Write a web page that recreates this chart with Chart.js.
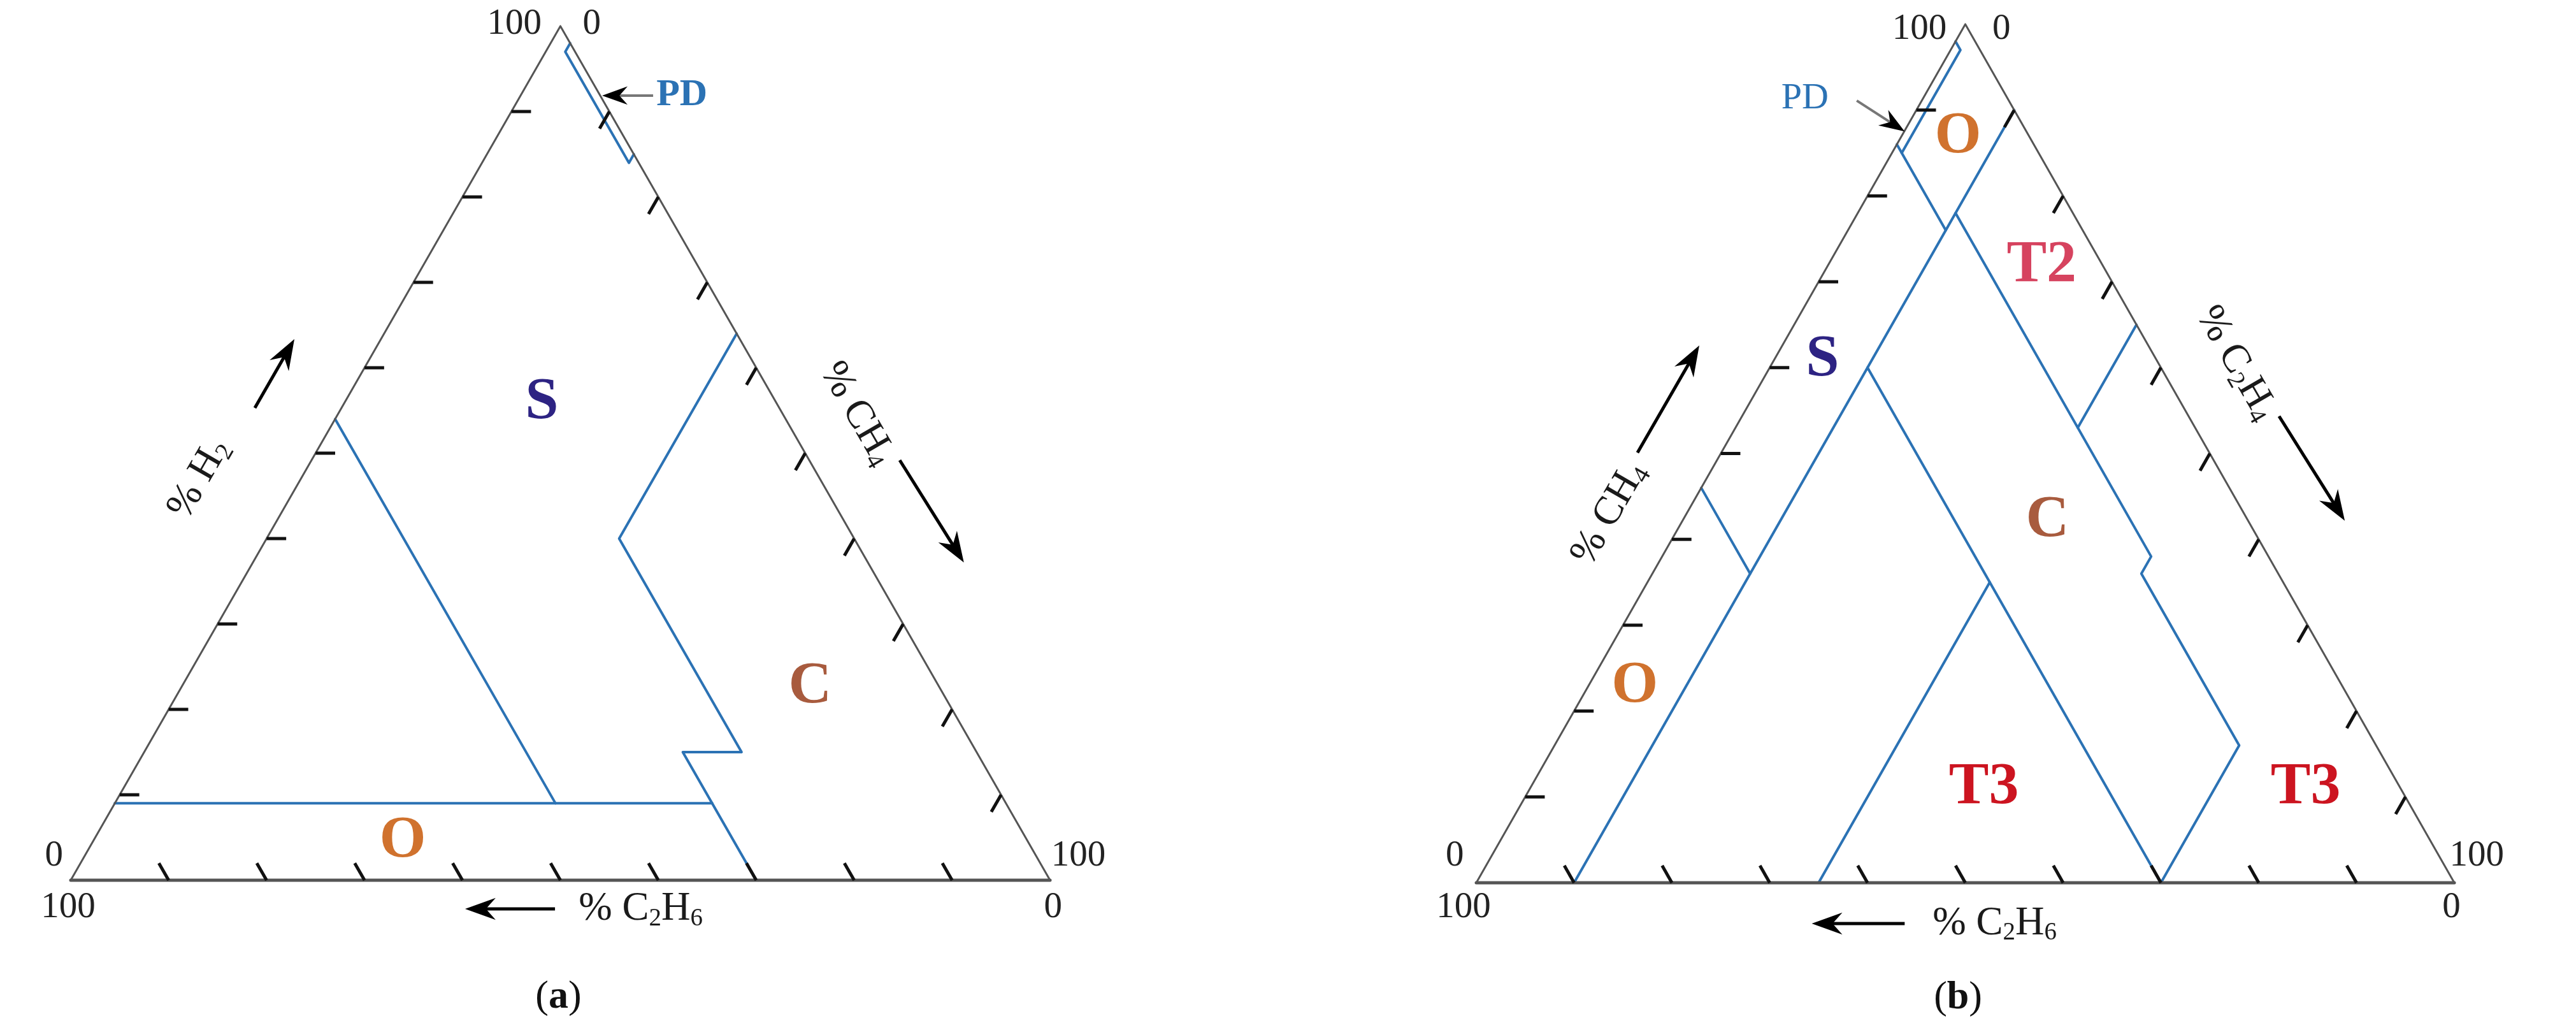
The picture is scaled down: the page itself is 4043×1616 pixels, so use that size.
<!DOCTYPE html>
<html>
<head>
<meta charset="utf-8">
<script src="https://cdn.jsdelivr.net/npm/chart.js@4.4.0/dist/chart.umd.min.js"></script>
<style>
html, body { margin: 0; padding: 0; background: #fff; }
body { width: 4043px; height: 1616px; position: relative; overflow: hidden; }
.box { position: absolute; top: 0; height: 1616px; }
#wrapA { left: 0; width: 2020px; }
#wrapB { left: 2020px; width: 2023px; }
</style>
</head>
<body>
<div class="box" id="wrapA"><canvas id="chartA"></canvas></div>
<div class="box" id="wrapB"><canvas id="chartB"></canvas></div>
<script>
// ticks every 10 % on each side
const tickValues = [10, 20, 30, 40, 50, 60, 70, 80, 90];
const cornerLabels = ['0', '100'];

// (a) points are [H2, CH4, C2H6] in %
const a_PD = [[98, 2, 0], [97, 2, 1], [84, 15, 1], [85, 15, 0]];
const a_ND = [[54, 0, 46], [9, 45, 46]];
const a_O = [[9, 0, 91], [9, 61, 30]];
const a_C = [[64, 36, 0], [40, 36, 24], [15, 61, 24], [15, 55, 30], [0, 70, 30]];
const a_zones = ['S', 'C', 'O'];

// (b) points are [CH4, C2H4, C2H6] in %
const b_PD = [[98, 0, 2], [97, 1, 2], [85, 1, 14]];
const b_Otop = [[86, 0, 14], [76, 10, 14]];
const b_C2H4_10 = [[90, 10, 0], [0, 10, 90]];
const b_Obottom = [[46, 0, 54], [36, 10, 54]];
const b_C2H6_12 = [[78, 10, 12], [38, 50, 12], [36, 50, 14], [16, 70, 14], [0, 70, 30]];
const b_C2H6_30 = [[60, 10, 30], [0, 70, 30]];
const b_C2H4_35top = [[65, 35, 0], [53, 35, 12]];
const b_C2H4_35bot = [[35, 35, 30], [0, 35, 65]];
const b_zones = ['O', 'T2', 'S', 'C', 'O', 'T3', 'T3'];

const BLUE = '#2b72b4';
const EDGE = '#555555';
const FONT = '"Liberation Serif", "DejaVu Serif", serif';
const col = { S: '#2d2383', C: '#a85b3e', O: '#d0722e', T2: '#d6435f', T3: '#cc1420', PD: '#2b72b4' };

// [top, right, left] -> x,y
function tern(p) { return { x: p[1] + p[0] / 2, y: p[0] }; }

function lineSet(pts, color, width) {
    return {
        data: pts.map(tern), showLine: true, borderColor: color, borderWidth: width,
        pointRadius: 0, fill: false, tension: 0,
        borderJoinStyle: 'round', borderCapStyle: 'round'
    };
}

function drawRich(ctx, segs, x, y, rot, size, color, align) {
    ctx.save();
    ctx.translate(x, y);
    ctx.rotate(rot * Math.PI / 180);
    ctx.fillStyle = color;
    ctx.textBaseline = 'middle';
    ctx.textAlign = 'left';
    const fnt = s => (s[2] ? 'bold ' : '') + Math.round(s[1] ? size * 0.62 : size) + 'px ' + FONT;
    let w = 0;
    segs.forEach(s => { ctx.font = fnt(s); w += ctx.measureText(s[0]).width; });
    let cx = align === 'left' ? 0 : -w / 2;
    segs.forEach(s => {
        ctx.font = fnt(s);
        ctx.fillText(s[0], cx, s[1] ? size * 0.24 : 0);
        cx += ctx.measureText(s[0]).width;
    });
    ctx.restore();
}

function arrow(ctx, x1, y1, x2, y2, lineColor, lw, head) {
    const ang = Math.atan2(y2 - y1, x2 - x1);
    const L = Math.hypot(x2 - x1, y2 - y1);
    ctx.save();
    ctx.translate(x2, y2);
    ctx.rotate(ang);
    ctx.strokeStyle = lineColor;
    ctx.lineWidth = lw;
    ctx.beginPath(); ctx.moveTo(-L, 0); ctx.lineTo(-head * 0.6, 0); ctx.stroke();
    ctx.fillStyle = '#000';
    ctx.beginPath();
    ctx.moveTo(0, 0); ctx.lineTo(-head, -head * 0.36); ctx.lineTo(-head * 0.68, 0); ctx.lineTo(-head, head * 0.36);
    ctx.closePath(); ctx.fill();
    ctx.restore();
}

function decor(cfg) {
    return {
        id: 'decor',
        afterDatasetsDraw(chart) {
            const ctx = chart.ctx, sx = chart.scales.x, sy = chart.scales.y;
            const P = (u, h) => [sx.getPixelForValue(u), sy.getPixelForValue(h)];
            const T = p => { const q = tern(p); return P(q.x, q.y); };
            // ticks
            ctx.save();
            ctx.strokeStyle = '#111';
            ctx.lineWidth = 5;
            tickValues.forEach(v => {
                [[[v, 0, 100 - v], [v, 2, 98 - v]],
                 [[0, 100 - v, v], [2, 98 - v, v]],
                 [[100 - v, v, 0], [98 - v, v, 2]]].forEach(t => {
                    const a = T(t[0]), b = T(t[1]);
                    ctx.beginPath(); ctx.moveTo(a[0], a[1]); ctx.lineTo(b[0], b[1]); ctx.stroke();
                });
            });
            ctx.restore();
            // corner numbers
            cfg.corners.forEach(c => { const p = P(c[1], c[2]); drawRich(ctx, [[cornerLabels[c[0]], 0, 0]], p[0], p[1], 0, 57, '#222'); });
            // axis titles and arrows
            cfg.titles.forEach(t => { const p = P(t.u, t.h); drawRich(ctx, t.segs, p[0], p[1], t.rot, 63, '#1a1a1a'); });
            cfg.arrows.forEach(a => {
                const p = P(a[0], a[1]), q = P(a[2], a[3]);
                arrow(ctx, p[0], p[1], q[0], q[1], a[4], a[5], a[6]);
            });
            // zone names
            cfg.zones.forEach(z => { const p = P(z.u, z.h); drawRich(ctx, [[z.t, 0, 1]], p[0], p[1], 0, z.size || 94, col[z.t]); });
            // PD label
            const pd = P(cfg.pd.u, cfg.pd.h);
            drawRich(ctx, [['PD', 0, cfg.pd.bold]], pd[0], pd[1], 0, cfg.pd.size, col.PD, cfg.pd.align);
            // caption
            const cp = P(cfg.cap.u, cfg.cap.h);
            drawRich(ctx, [['(', 0, 0], [cfg.cap.t, 0, 1], [')', 0, 0]], cp[0], cp[1], 0, 62, '#111');
        }
    };
}

function makeChart(id, lines, range, cfg) {
    const outline = [[100, 0, 0], [0, 100, 0], [0, 0, 100], [100, 0, 0]];
    const sets = [lineSet(outline, EDGE, 3), lineSet([[0, 100, 0], [0, 0, 100]], EDGE, 5)];
    lines.forEach(l => sets.push(lineSet(l, BLUE, 4)));
    new Chart(document.getElementById(id), {
        type: 'scatter',
        data: { datasets: sets },
        options: {
            responsive: true,
            maintainAspectRatio: false,
            animation: false,
            events: [],
            layout: { padding: 0 },
            plugins: { legend: { display: false }, tooltip: { enabled: false } },
            scales: {
                x: { type: 'linear', display: false, min: range[0], max: range[1] },
                y: { type: 'linear', display: false, min: range[2], max: range[3] }
            }
        },
        plugins: [decor(cfg)]
    });
}

// (a)
makeChart('chartA', [a_PD, a_ND, a_O, a_C], [-7.222, 124.2, -17.54, 103.06], {
    corners: [[1, 45.3, 100.2], [0, 53.2, 100.2], [0, -1.7, 2.84], [1, -0.26, -3.2], [1, 102.9, 2.84], [0, 100.3, -3.2]],
    titles: [
        { segs: [['% H', 0, 0], ['2', 1, 0]], u: 13.1, h: 47.0, rot: -60 },
        { segs: [['% CH', 0, 0], ['4', 1, 0]], u: 80.3, h: 54.6, rot: 60 },
        { segs: [['% C', 0, 0], ['2', 1, 0], ['H', 0, 0], ['6', 1, 0]], u: 58.2, h: -3.4, rot: 0 }
    ],
    arrows: [
        [18.8, 55.3, 22.84, 63.36, '#000', 5, 48],
        [84.65, 49.18, 91.2, 37.2, '#000', 5, 48],
        [49.45, -3.36, 40.27, -3.36, '#000', 5, 48],
        [59.47, 91.87, 54.26, 91.87, '#777', 4, 40]
    ],
    zones: [
        { t: a_zones[0], u: 48.1, h: 55.9 },
        { t: a_zones[1], u: 75.5, h: 22.6 },
        { t: a_zones[2], u: 33.9, h: 4.55 }
    ],
    pd: { u: 59.8, h: 91.87, size: 60, bold: 1, align: 'left' },
    cap: { t: 'a', u: 49.8, h: -13.7 }
});

// (b)
makeChart('chartB', [b_PD, b_Otop, b_C2H4_10, b_Obottom, b_C2H6_12, b_C2H6_30, b_C2H4_35top, b_C2H4_35bot],
    [-19.35, 112.44, -17.15, 102.82], {
    corners: [[1, 45.3, 99.4], [0, 53.7, 99.4], [0, -2.2, 3.1], [1, -1.3, -2.9], [1, 102.3, 3.1], [0, 99.7, -2.9]],
    titles: [
        { segs: [['% CH', 0, 0], ['4', 1, 0]], u: 13.6, h: 43.0, rot: -60 },
        { segs: [['% C', 0, 0], ['2', 1, 0], ['H', 0, 0], ['4', 1, 0]], u: 77.7, h: 60.5, rot: 60 },
        { segs: [['% C', 0, 0], ['2', 1, 0], ['H', 0, 0], ['6', 1, 0]], u: 53.0, h: -4.75, rot: 0 }
    ],
    arrows: [
        [16.48, 50.1, 22.8, 62.58, '#000', 5, 48],
        [82.08, 54.34, 88.8, 42.17, '#000', 5, 48],
        [43.8, -4.75, 34.3, -4.75, '#000', 5, 48],
        [38.9, 91.1, 43.8, 87.5, '#777', 4, 40]
    ],
    zones: [
        { t: b_zones[0], u: 49.25, h: 86.9 },
        { t: b_zones[1], u: 57.8, h: 71.9 },
        { t: b_zones[2], u: 35.4, h: 60.9 },
        { t: b_zones[3], u: 58.4, h: 42.2 },
        { t: b_zones[4], u: 16.2, h: 22.9 },
        { t: b_zones[5], u: 51.9, h: 11.1 },
        { t: b_zones[6], u: 84.8, h: 11.1 }
    ],
    pd: { u: 33.6, h: 91.3, size: 58, bold: 0, align: 'center' },
    cap: { t: 'b', u: 49.25, h: -13.4 }
});
</script>
</body>
</html>
